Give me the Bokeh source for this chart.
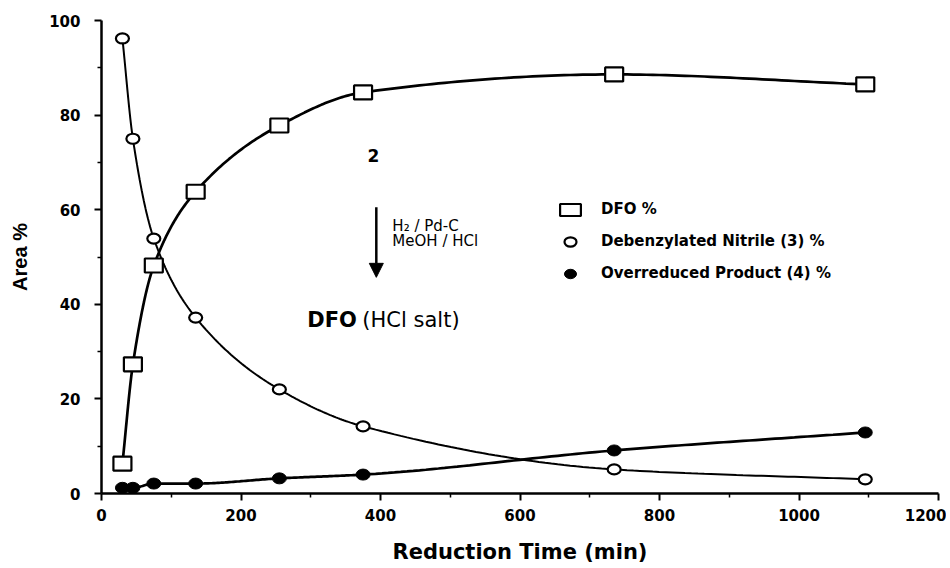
import numpy as np
from bokeh.plotting import figure
from bokeh.models import (Range1d, Arrow, NormalHead, Label, Legend, LegendItem,
                          FixedTicker, ColumnDataSource)
from bokeh.embed import file_html
from bokeh.resources import INLINE

# ---- data ----
time_min = [30, 45, 75, 135, 255, 375, 735, 1095]
dfo_pct = [6.3, 27.3, 48.2, 63.8, 77.8, 84.8, 88.6, 86.5]
nitrile_pct = [96.2, 75.0, 53.9, 37.2, 22.0, 14.2, 5.1, 3.0]
overreduced_pct = [1.2, 1.2, 2.1, 2.1, 3.2, 4.0, 9.1, 12.9]

x_ticks = [0, 200, 400, 600, 800, 1000, 1200]
x_minor_ticks = [100, 300, 500, 700, 900, 1100]
y_ticks = [0, 20, 40, 60, 80, 100]
y_minor_ticks = [10, 30, 50, 70, 90]

series_labels = ["DFO %", "Debenzylated Nitrile (3) %", "Overreduced Product (4) %"]


def smooth(xs, ys, n=40):
    """Monotone cubic (PCHIP) curve through the data points, for drawing."""
    x = np.asarray(xs, float)
    y = np.asarray(ys, float)
    h = np.diff(x)
    d = np.diff(y) / h
    m = np.zeros_like(y)
    m[0], m[-1] = d[0], d[-1]
    for k in range(1, len(x) - 1):
        if d[k - 1] * d[k] <= 0:
            m[k] = 0.0
        else:
            w1 = 2 * h[k] + h[k - 1]
            w2 = h[k] + 2 * h[k - 1]
            m[k] = (w1 + w2) / (w1 / d[k - 1] + w2 / d[k])
    xo, yo = [], []
    for k in range(len(x) - 1):
        t = np.linspace(0, 1, n, endpoint=(k == len(x) - 2))
        h00 = 2 * t**3 - 3 * t**2 + 1
        h10 = t**3 - 2 * t**2 + t
        h01 = -2 * t**3 + 3 * t**2
        h11 = t**3 - t**2
        xo.extend(x[k] + t * h[k])
        yo.extend(h00 * y[k] + h10 * h[k] * m[k] + h01 * y[k + 1] + h11 * h[k] * m[k + 1])
    return xo, yo


p = figure(width=946, height=566, output_backend="svg", toolbar_location=None,
           x_range=Range1d(0, 1200), y_range=Range1d(0, 100),
           min_border_left=101, min_border_right=8, min_border_top=20, min_border_bottom=73)
p.outline_line_color = None
p.grid.visible = False
p.background_fill_color = "white"
p.border_fill_color = "white"

p.xaxis.ticker = FixedTicker(ticks=x_ticks, minor_ticks=x_minor_ticks)
p.yaxis.ticker = FixedTicker(ticks=y_ticks, minor_ticks=y_minor_ticks)

for ax in (p.xaxis[0], p.yaxis[0]):
    ax.axis_line_width = 2.5
    ax.axis_line_color = "black"
    ax.major_tick_line_width = 2
    ax.major_tick_line_color = "black"
    ax.major_tick_out = 7
    ax.major_tick_in = 0
    ax.minor_tick_out = 4
    ax.minor_tick_in = 0
    ax.minor_tick_line_width = 1.5
    ax.minor_tick_line_color = "black"
    ax.major_label_text_font = "DejaVu Sans"
    ax.major_label_text_font_style = "bold"
    ax.major_label_text_font_size = "15px"
    ax.major_label_text_color = "black"
    ax.axis_label_text_font_style = "bold"
    ax.axis_label_text_color = "black"

p.xaxis.axis_label = "Reduction Time (min)"
p.xaxis.axis_label_text_font = "DejaVu Sans"
p.xaxis.axis_label_text_font_size = "21px"
p.xaxis.major_label_standoff = 8
p.xaxis.axis_label_standoff = 16
p.xaxis.major_label_text_align = "right"

p.yaxis.axis_label = "Area %"
p.yaxis.axis_label_text_font = "Liberation Sans"
p.yaxis.axis_label_text_font_size = "20px"
p.yaxis.major_label_standoff = 14
p.yaxis.axis_label_standoff = 15

# ---- curves ----
xs, ys = smooth(time_min, dfo_pct)
p.line(xs, ys, line_color="black", line_width=2.7)
xs, ys = smooth(time_min, nitrile_pct)
p.line(xs, ys, line_color="black", line_width=2.0)
xs, ys = smooth(time_min, overreduced_pct)
p.line(xs, ys, line_color="black", line_width=2.7)

src = ColumnDataSource(dict(t=time_min, dfo=dfo_pct, nit=nitrile_pct, ovr=overreduced_pct))

r_dfo = p.rect(x="t", y="dfo", width=18, height=14, width_units="screen", height_units="screen",
               source=src, fill_color="white", line_color="black", line_width=2.2)
r_nit = p.ellipse(x="t", y="nit", width=13, height=10, width_units="screen", height_units="screen",
                  source=src, fill_color="white", line_color="black", line_width=2.2)
r_ovr = p.ellipse(x="t", y="ovr", width=14, height=11, width_units="screen", height_units="screen",
                  source=src, fill_color="black", line_color="black", line_width=1)

legend = Legend(items=[LegendItem(label=series_labels[0], renderers=[r_dfo]),
                       LegendItem(label=series_labels[1], renderers=[r_nit]),
                       LegendItem(label=series_labels[2], renderers=[r_ovr])],
                location=(456, 211), orientation="vertical",
                glyph_width=26, glyph_height=15, label_height=15, spacing=14,
                padding=0, margin=0, label_standoff=18,
                border_line_alpha=0, background_fill_alpha=0,
                label_text_font="DejaVu Sans", label_text_font_style="bold",
                label_text_font_size="15px", label_text_color="black")
p.add_layout(legend)

# ---- reaction scheme annotation ----
p.add_layout(Label(x=390, y=71.5, text="2", text_font="DejaVu Sans", text_font_style="bold",
                   text_font_size="17px", text_align="center", text_baseline="middle",
                   text_color="black"))
p.add_layout(Arrow(end=NormalHead(size=14, fill_color="black", line_color="black"),
                   x_start=394, y_start=60.5, x_end=394, y_end=45.7,
                   line_width=2.5, line_color="black"))
p.add_layout(Label(x=417, y=56.5, text="H\u2082 / Pd-C", text_font="DejaVu Sans",
                   text_font_size="15px", text_align="left", text_baseline="middle",
                   text_color="black"))
p.add_layout(Label(x=417, y=53.3, text="MeOH / HCl", text_font="DejaVu Sans",
                   text_font_size="15px", text_align="left", text_baseline="middle",
                   text_color="black"))
p.add_layout(Label(x=295, y=36.6, text="DFO", text_font="DejaVu Sans", text_font_style="bold",
                   text_font_size="21px", text_align="left", text_baseline="middle",
                   text_color="black"))
p.add_layout(Label(x=374, y=36.6, text="(HCl salt)", text_font="DejaVu Sans",
                   text_font_size="21px", text_align="left", text_baseline="middle",
                   text_color="black"))

open("out.html", "w").write(file_html(p, INLINE))
